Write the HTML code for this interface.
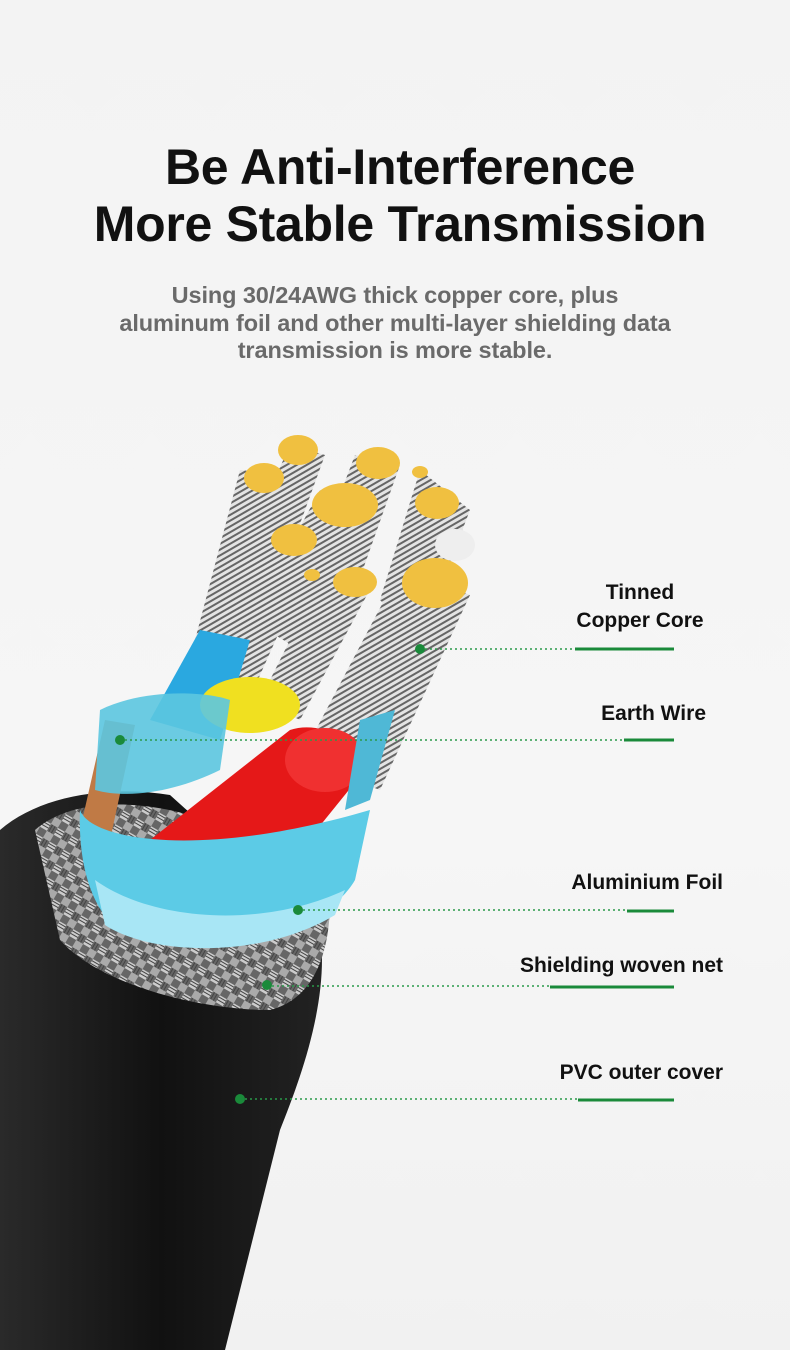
<!DOCTYPE html>
<html><head><meta charset="utf-8"><style>
html,body{margin:0;padding:0}
body{width:790px;height:1350px;overflow:hidden;background:linear-gradient(#f3f3f3,#f6f6f6 60%,#f1f1f1);font-family:"Liberation Sans",Arial,sans-serif;position:relative}
h1{position:absolute;top:139px;left:5px;width:790px;margin:0;text-align:center;font-size:50px;line-height:57px;font-weight:bold;color:#111;letter-spacing:-0.3px}
.sub{position:absolute;top:282px;left:0;width:790px;text-align:center;font-size:23.5px;line-height:27.5px;font-weight:bold;color:#6a6a6a;letter-spacing:-0.1px}
.lbl{position:absolute;font-size:21px;font-weight:bold;color:#111;line-height:28px}
svg{position:absolute;left:0;top:0}
</style></head><body>
<h1>Be Anti-Interference<br>More Stable Transmission</h1>
<div class="sub">Using 30/24AWG thick copper core, plus<br>aluminum foil and other multi-layer shielding data<br>transmission is more stable.</div>

<svg width="790" height="1350" viewBox="0 0 790 1350">
<defs>
<linearGradient id="blk" x1="0" y1="0" x2="1" y2="0"><stop offset="0" stop-color="#2a2a2a"/><stop offset="0.5" stop-color="#111"/><stop offset="1" stop-color="#222"/></linearGradient>
<pattern id="braid" width="16" height="16" patternUnits="userSpaceOnUse" patternTransform="rotate(30)">
<rect width="16" height="16" fill="#666"/><rect width="8" height="8" fill="#ccc"/><rect x="8" y="8" width="8" height="8" fill="#aaa"/>
<path d="M0 2H8M0 5H8M10 0V8M13 0V8" stroke="#444" stroke-width="1"/></pattern>
<pattern id="strand" width="5" height="5" patternUnits="userSpaceOnUse" patternTransform="rotate(60)">
<rect width="5" height="5" fill="#e4e4e4"/><rect width="2" height="5" fill="#666"/></pattern>
</defs>
<path d="M0,830 C40,795 110,785 170,795 L320,930 C330,1000 300,1080 280,1130 L225,1350 L0,1350 Z" fill="url(#blk)"/>
<path d="M35,830 C80,790 180,800 250,840 L330,900 C330,960 310,1000 270,1010 C200,1010 100,985 60,940 Z" fill="url(#braid)"/>
<path d="M80,830 L105,720 L135,725 L110,840 Z" fill="#c07a45"/>
<g fill="url(#strand)">
<path d="M195,640 L240,470 L290,475 L240,660 Z"/>
<path d="M220,600 L290,445 L325,455 L265,620 Z"/>
<path d="M300,600 L355,455 L400,465 L345,620 Z"/>
<path d="M250,620 L320,490 L380,505 L300,650 Z"/>
<path d="M380,600 L420,470 L470,510 L420,640 Z"/>
<path d="M200,700 L275,530 L318,545 L240,720 Z"/>
<path d="M260,700 L325,570 L375,580 L300,720 Z"/>
<path d="M300,760 L400,570 L470,595 L380,790 Z"/>
</g>
<path d="M150,720 L200,630 L250,640 L220,740 Z" fill="#2aa8e0"/>
<path d="M150,840 L290,730 C320,720 360,740 365,770 L260,900 Z" fill="#e51818"/>
<ellipse cx="325" cy="760" rx="40" ry="32" fill="#f03030"/>
<ellipse cx="250" cy="705" rx="50" ry="28" fill="#f0e020"/>
<path d="M100,710 C140,690 200,690 230,700 L220,770 C180,790 130,800 95,790 Z" fill="#5cc6e0" opacity="0.9"/>
<path d="M360,720 L395,710 L370,800 L345,810 Z" fill="#4fb8d6"/>
<path d="M80,810 C90,840 200,860 370,810 L355,880 C320,940 200,960 120,930 C90,910 78,860 80,810 Z" fill="#5ccbe6"/>
<path d="M95,880 C150,920 260,930 345,890 L335,915 C260,960 150,955 105,925 Z" fill="#a8e6f5"/>
<g fill="#f0c040">
<ellipse cx="298" cy="450" rx="20" ry="15"/><ellipse cx="264" cy="478" rx="20" ry="15"/>
<ellipse cx="378" cy="463" rx="22" ry="16"/><ellipse cx="345" cy="505" rx="33" ry="22"/>
<ellipse cx="437" cy="503" rx="22" ry="16"/><ellipse cx="294" cy="540" rx="23" ry="16"/>
<ellipse cx="355" cy="582" rx="22" ry="15"/><ellipse cx="435" cy="583" rx="33" ry="25"/>
<ellipse cx="420" cy="472" rx="8" ry="6"/><ellipse cx="312" cy="575" rx="8" ry="6"/>
</g>
<ellipse cx="455" cy="545" rx="20" ry="16" fill="#eee"/>
<g stroke="#2a9a4a" stroke-width="1.5" stroke-dasharray="2 3" fill="none">
<line x1="420" y1="649" x2="575" y2="649"/>
<line x1="120" y1="740" x2="624" y2="740"/>
<line x1="298" y1="910" x2="627" y2="910"/>
<line x1="267" y1="986" x2="550" y2="986"/>
<line x1="240" y1="1099" x2="578" y2="1099"/>
</g>
<g stroke="#1a8a3a" stroke-width="3">
<line x1="575" y1="649" x2="674" y2="649"/>
<line x1="624" y1="740" x2="674" y2="740"/>
<line x1="627" y1="911" x2="674" y2="911"/>
<line x1="550" y1="987" x2="674" y2="987"/>
<line x1="578" y1="1100" x2="674" y2="1100"/>
</g>
<g fill="#1a8a3a">
<circle cx="420" cy="649" r="5"/><circle cx="120" cy="740" r="5"/><circle cx="298" cy="910" r="5"/><circle cx="267" cy="985" r="5"/><circle cx="240" cy="1099" r="5"/>
</g>
</svg>

<div class="lbl" style="left:540px;top:579px;width:200px;text-align:center">Tinned<br>Copper Core</div>
<div class="lbl" style="right:84px;top:700px">Earth Wire</div>
<div class="lbl" style="right:67px;top:869px">Aluminium Foil</div>
<div class="lbl" style="right:67px;top:952px">Shielding woven net</div>
<div class="lbl" style="right:67px;top:1059px">PVC outer cover</div>
</body></html>
